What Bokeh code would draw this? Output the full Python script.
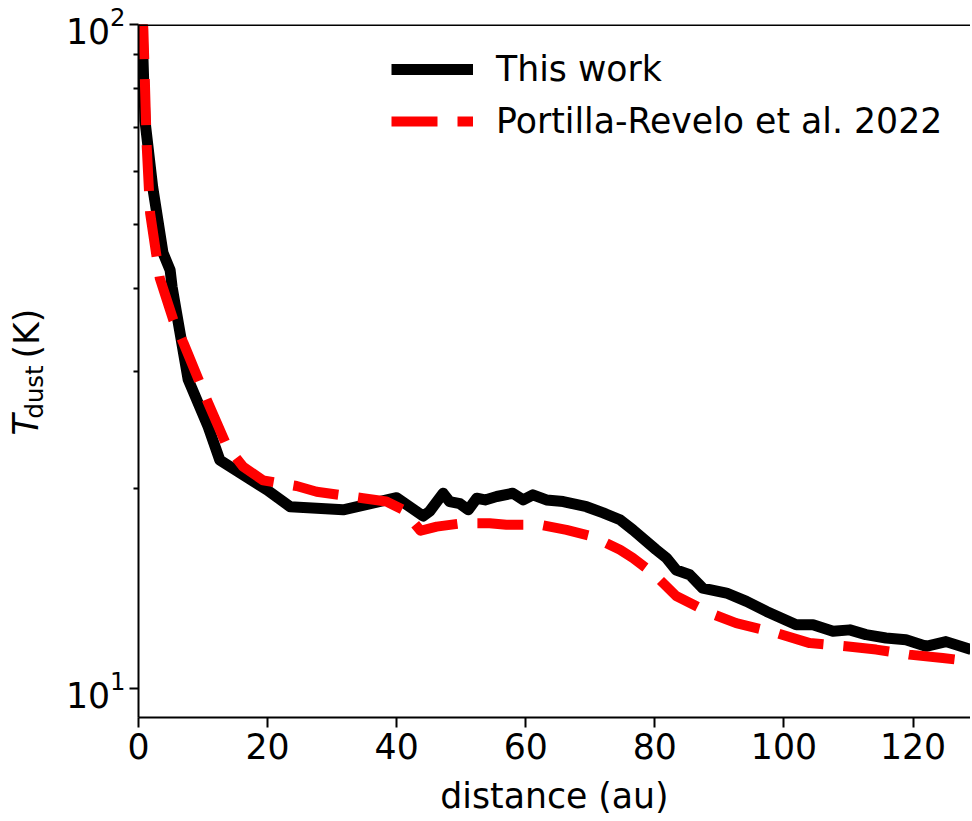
import math
from bokeh.plotting import figure
from bokeh.layouts import row
from bokeh.models import Range1d, Legend, LegendItem, Span, FixedTicker
from bokeh.core.properties import value
from bokeh.embed import file_html
from bokeh.resources import INLINE

# --- data ---
this_work_r = [0.5, 0.67, 1.0, 2.2, 3.8, 4.9, 5.2, 5.9, 7.7, 10.8, 12.6, 19.9, 23.5,
               31.7, 40.0, 44.1, 45.1, 47.2, 48.2, 49.8, 51.1, 52.4, 53.7, 55.5, 58.0,
               59.6, 61.1, 63.2, 65.8, 69.4, 72.0, 74.6, 76.6, 80.2, 81.8, 83.3, 85.4,
               87.4, 91.1, 94.2, 97.3, 101.9, 104.5, 107.6, 110.2, 112.7, 115.8, 118.9,
               122.0, 125.1, 129.0]
this_work_T = [105.0, 90.4, 71.7, 56.9, 45.3, 42.7, 40.3, 36.8, 29.2, 24.8, 22.1, 19.93, 18.8,
               18.6, 19.4, 18.2, 18.5, 19.7, 19.14, 19.0, 18.6, 19.36, 19.25, 19.48, 19.7,
               19.25, 19.59, 19.25, 19.14, 18.8, 18.4, 17.97, 17.35, 16.2, 15.74, 15.1, 14.85,
               14.18, 13.94, 13.54, 13.08, 12.49, 12.49, 12.21, 12.27, 12.07, 11.93, 11.86,
               11.59, 11.78, 11.46]

portilla_r = [0.6, 0.76, 1.28, 1.8, 3.3, 5.4, 7.0, 10.6, 13.7, 16.2, 19.3, 24.5, 27.6,
              34.8, 38.4, 41.0, 43.7, 46.2, 50.3, 54.4, 57.0, 62.2, 66.3, 70.4, 74.6,
              76.6, 79.7, 83.3, 88.5, 92.6, 98.8, 104.0, 109.6, 114.3, 119.4, 124.6, 129.0]
portilla_T = [104.0, 97.9, 65.4, 52.0, 41.5, 35.9, 33.1, 27.2, 23.2, 21.6, 20.6, 20.2, 19.8,
              19.36, 19.14, 18.6, 17.3, 17.55, 17.76, 17.76, 17.66, 17.66, 17.35, 16.95, 16.2,
              15.74, 14.94, 13.8, 13.01, 12.56, 12.14, 11.72, 11.59, 11.46, 11.26, 11.13, 11.0]

x_ticks = [0, 20, 40, 60, 80, 100, 120]
y_major_ticks = [10, 100]
y_minor_ticks = [20, 30, 40, 50, 60, 70, 80, 90]
series_labels = ["This work", "Portilla-Revelo et al. 2022"]
x_label = "distance (au)"

FONT = "DejaVu Sans"
FS = "34.7px"
H = 818
LAB_W = 60
TOP = 24          # frame top (page px)
BOTTOM = 718      # frame bottom (page px)

# ---- main plot ----
p = figure(width=910, height=H, y_axis_type="log",
           x_range=Range1d(0, 128.9), y_range=Range1d(9.056, 100),
           output_backend="svg", toolbar_location=None,
           min_border_left=78, min_border_right=0,
           min_border_top=TOP, min_border_bottom=H - BOTTOM)
p.outline_line_color = None
p.grid.visible = False
p.background_fill_color = "white"
p.border_fill_color = "white"

r1 = p.line(this_work_r, this_work_T, line_color="black", line_width=11,
            line_join="round", line_cap="butt")
r2 = p.line(portilla_r, portilla_T, line_color="#ff0000", line_width=10,
            line_dash="46 20", line_join="round", line_cap="butt")

xa = p.xaxis[0]
xa.ticker = FixedTicker(ticks=x_ticks)
ya = p.yaxis[0]
ya.ticker = FixedTicker(ticks=y_major_ticks, minor_ticks=y_minor_ticks)
for ax in (xa, ya):
    ax.axis_line_width = 2
    ax.axis_line_color = "black"
    ax.major_tick_line_width = 2
    ax.minor_tick_line_width = 2
    ax.major_tick_in = 0
    ax.minor_tick_in = 0
    ax.major_label_text_font = FONT
    ax.major_label_text_font_size = FS
    ax.major_label_text_color = "black"
xa.major_tick_out = 10
xa.minor_tick_out = 0
xa.major_label_standoff = 5
xa.axis_label = x_label
xa.axis_label_text_font = FONT
xa.axis_label_text_font_size = FS
xa.axis_label_text_font_style = "normal"
xa.axis_label_text_color = "black"
xa.axis_label_standoff = 14
ya.major_tick_out = 9
ya.minor_tick_out = 5
ya.major_label_standoff = 4

# top spine
p.add_layout(Span(location=100, dimension="width", line_color="black", line_width=3))

legend = Legend(items=[LegendItem(label=series_labels[0], renderers=[r1]),
                       LegendItem(label=series_labels[1], renderers=[r2])],
                location=(253, 576), glyph_width=82, glyph_height=40,
                label_height=40, spacing=12, padding=0, margin=0,
                label_standoff=23, border_line_color=None,
                background_fill_alpha=0,
                label_text_font=FONT, label_text_font_size=FS,
                label_text_color="black")
p.add_layout(legend)

# ---- y-axis label panel; its frame spans the same rows as the main frame ----
FH = BOTTOM - TOP
lab = figure(width=LAB_W, height=H, x_range=Range1d(0, LAB_W), y_range=Range1d(0, FH),
             x_axis_location=None, y_axis_location=None, toolbar_location=None,
             output_backend="svg", min_border_left=0, min_border_right=0,
             min_border_top=TOP, min_border_bottom=H - BOTTOM)
lab.outline_line_color = None
lab.grid.visible = False
ang = math.pi / 2
common = dict(angle=ang, text_align="center", text_baseline="middle",
              text_font=value(FONT), text_color="black")
lab.text(x=[25], y=[BOTTOM - 425], text=["T"], text_font_size=value(FS),
         text_font_style="italic", **common)
lab.text(x=[34], y=[BOTTOM - 392], text=["dust"], text_font_size=value("24.3px"), **common)
lab.text(x=[26], y=[BOTTOM - 333.5], text=["(K)"], text_font_size=value(FS), **common)

layout = row(lab, p, spacing=0)
open("out.html", "w").write(file_html(layout, INLINE))
